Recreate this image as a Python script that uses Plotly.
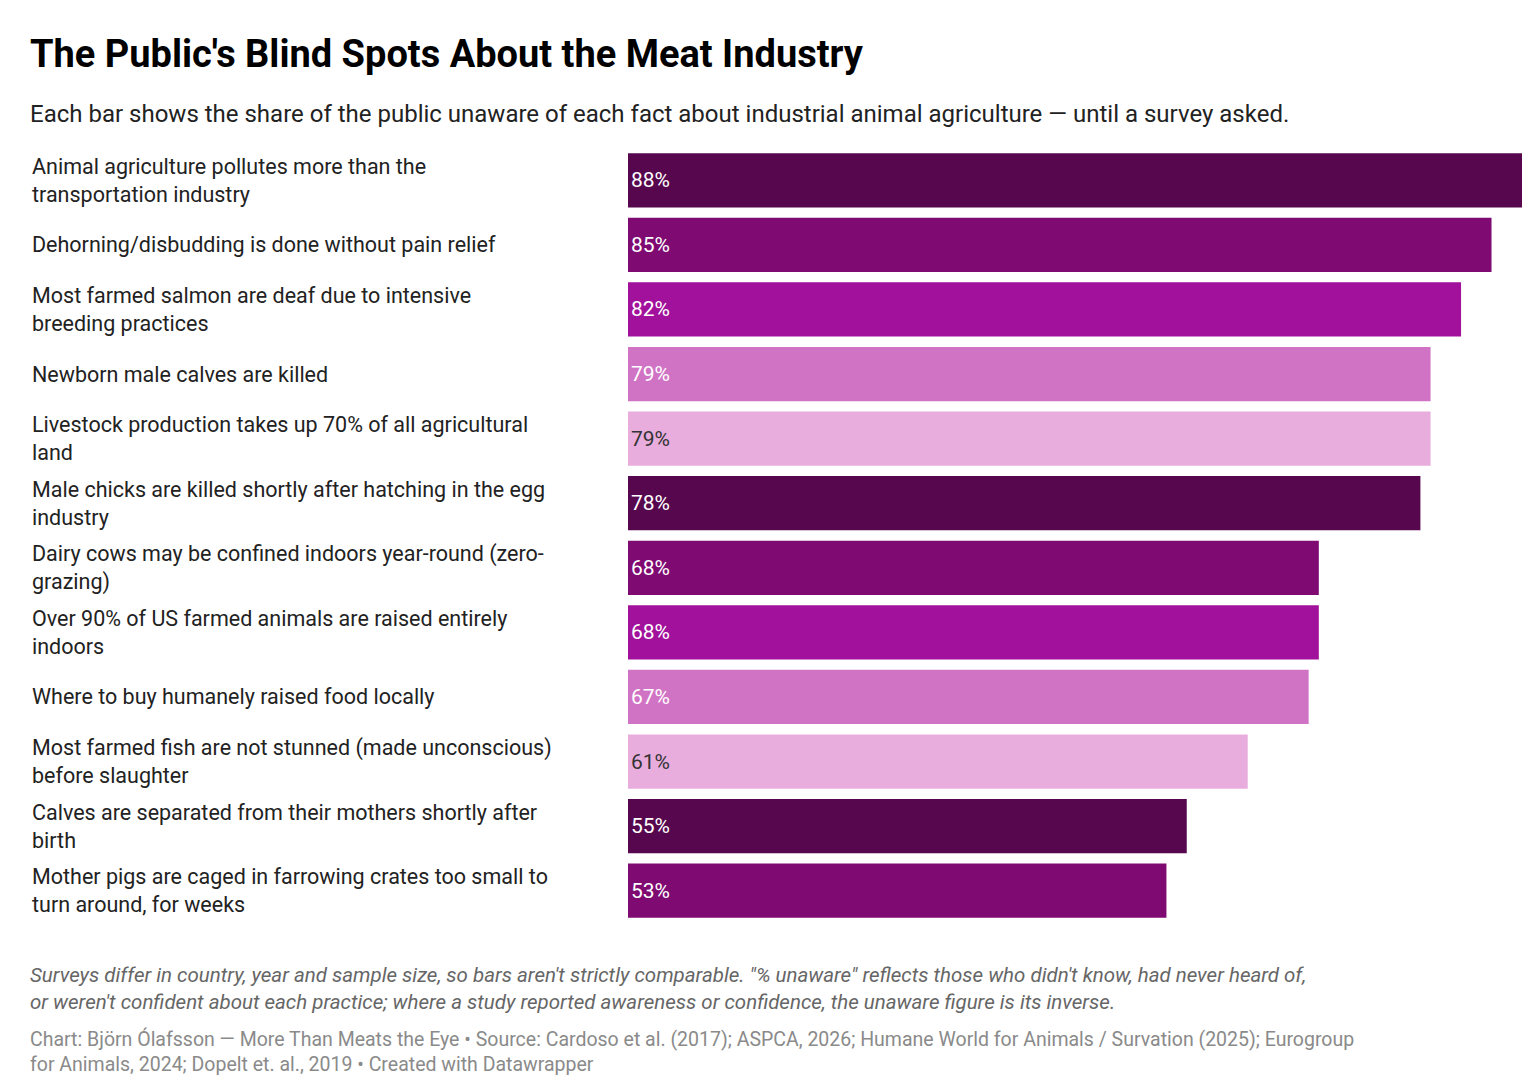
import plotly.graph_objects as go

facts = [
    "Animal agriculture pollutes more than the<br>transportation industry",
    "Dehorning/disbudding is done without pain relief",
    "Most farmed salmon are deaf due to intensive<br>breeding practices",
    "Newborn male calves are killed",
    "Livestock production takes up 70% of all agricultural<br>land",
    "Male chicks are killed shortly after hatching in the egg<br>industry",
    "Dairy cows may be confined indoors year-round (zero-<br>grazing)",
    "Over 90% of US farmed animals are raised entirely<br>indoors",
    "Where to buy humanely raised food locally",
    "Most farmed fish are not stunned (made unconscious)<br>before slaughter",
    "Calves are separated from their mothers shortly after<br>birth",
    "Mother pigs are caged in farrowing crates too small to<br>turn around, for weeks",
]
unaware = [88, 85, 82, 79, 79, 78, 68, 68, 67, 61, 55, 53]

palette = ["#56074e", "#7e0a72", "#a2119b", "#d173c4", "#e8addd"]
colors = [palette[i % 5] for i in range(len(facts))]
text_colors = ["#333333" if c == "#e8addd" else "#ffffff" for c in colors]

fig = go.Figure(go.Bar(
    x=unaware, y=list(range(len(facts))), orientation="h",
    marker=dict(color=colors, line=dict(width=0)),
    text=[f"{v}%" for v in unaware], textposition="inside",
    insidetextanchor="start",
    textfont=dict(family="Roboto", size=21, color=text_colors),
    hoverinfo="skip",
))

for i, f in enumerate(facts):
    fig.add_annotation(x=(22 - 620) / 894, xref="paper", y=i, yref="y",
                       text=f, showarrow=False, xanchor="left", align="left",
                       font=dict(family="Roboto", size=21.5, color="#222222"))

fig.update_layout(
    width=1536, height=1092, plot_bgcolor="white", paper_bgcolor="white",
    margin=dict(l=620, r=22, t=140, b=177), bargap=0.16, showlegend=False,
    xaxis=dict(range=[0, 88], visible=False),
    yaxis=dict(range=[len(facts) - 0.5, -0.5], visible=False),
    font=dict(family="Roboto"),
)
fig.add_annotation(x=22, xref="pixel" if False else "paper", y=1, yref="paper", text="")
fig.layout.annotations = fig.layout.annotations[:-1]

def top_text(y, text, size, color, bold=False, italic=False):
    fig.add_annotation(x=(20 - 620) / 894, xref="paper",
                       y=1 - (y - 140) / 775, yref="paper",
                       text=f"<b>{text}</b>" if bold else (f"<i>{text}</i>" if italic else text),
                       showarrow=False, xanchor="left", yanchor="middle", align="left",
                       font=dict(family="Roboto", size=size, color=color))

top_text(46, "The Public's Blind Spots About the Meat Industry", 38, "#000000", bold=True)
top_text(106, "Each bar shows the share of the public unaware of each fact about industrial animal agriculture — until a survey asked.", 24, "#222222")
top_text(980, "Surveys differ in country, year and sample size, so bars aren't strictly comparable. \"% unaware\" reflects those who didn't know, had never heard of,<br>or weren't confident about each practice; where a study reported awareness or confidence, the unaware figure is its inverse.", 20.5, "#666666", italic=True)
top_text(1043, "Chart: Björn Ólafsson — More Than Meats the Eye • Source: Cardoso et al. (2017); ASPCA, 2026; Humane World for Animals / Survation (2025); Eurogroup<br>for Animals, 2024; Dopelt et. al., 2019 • Created with Datawrapper", 19.5, "#8a8a8a")

fig.write_html("out.html")
